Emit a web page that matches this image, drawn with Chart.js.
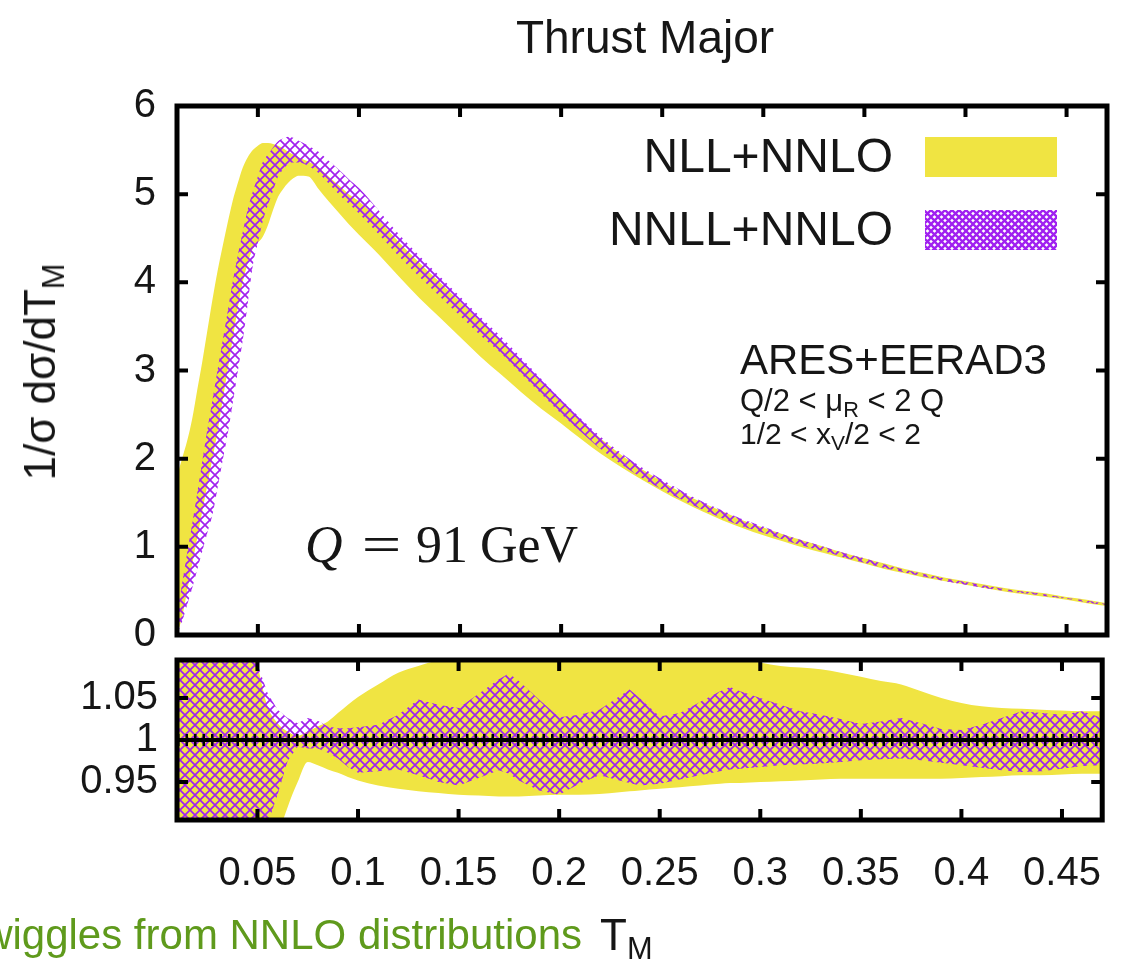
<!DOCTYPE html>
<html>
<head>
<meta charset="utf-8">
<script src="https://cdn.jsdelivr.net/npm/chart.js@4.4.1/dist/chart.umd.min.js"></script>
<style>
  html, body { margin: 0; padding: 0; background: #fff; }
  body { width: 1132px; height: 964px; position: relative; overflow: hidden;
         font-family: "Liberation Sans", Arial, sans-serif; color: #161616; }
  canvas { position: absolute; left: 0; }
  #main { top: 0; }
  #ratio { top: 600px; }
  .txt { position: absolute; white-space: nowrap; line-height: 1; }
  .txt sub { font-size: 70%; vertical-align: -0.3em; line-height: 0; }
  #title { left: 645px; top: 37px; font-size: 46px; transform: translate(-50%, -50%); }
  #ytitle { left: 40px; top: 372px; font-size: 44px; transform: translate(-50%, -50%) rotate(-90deg); }
  #qval { left: 305px; top: 545px; font-size: 52px; font-family: "Liberation Serif", serif; transform: translateY(-50%); }
  #qval .eq { display: inline-block; margin: 0 20px 0 24px; transform: scaleX(1.35); }
  #qval .gev { margin-left: 12px; }
  #ares { left: 740px; top: 360px; font-size: 42px; transform: translateY(-50%); }
  #mur { left: 740px; top: 400px; font-size: 31px; transform: translateY(-50%); }
  #xv { left: 740px; top: 434px; font-size: 30px; transform: translateY(-50%); }
  #note { right: 550px; top: 935px; font-size: 42px; color: #5f9a1c; transform: translateY(-50%); }
  #xtitle { left: 600px; top: 935px; font-size: 44px; transform: translateY(-50%); }
</style>
</head>
<body>
<canvas id="main" width="1132" height="680"></canvas>
<canvas id="ratio" width="1132" height="364"></canvas>

<div class="txt" id="title">Thrust Major</div>
<div class="txt" id="ytitle">1/σ dσ/dT<sub>M</sub></div>
<div class="txt" id="qval"><i>Q</i><span class="eq">=</span>91<span class="gev">GeV</span></div>
<div class="txt" id="ares">ARES+EERAD3</div>
<div class="txt" id="mur">Q/2 &lt; μ<sub>R</sub> &lt; 2 Q</div>
<div class="txt" id="xv">1/2 &lt; x<sub>V</sub>/2 &lt; 2</div>
<div class="txt" id="note">wiggles from NNLO distributions</div>
<div class="txt" id="xtitle">T<sub>M</sub></div>

<script>
// thrust major bins
const tGrid = [
  0.010, 0.0125, 0.015, 0.0175, 0.020, 0.0225, 0.025, 0.0275, 0.030, 0.0325,
  0.035, 0.0375, 0.040, 0.0425, 0.045, 0.0475, 0.050, 0.0525, 0.055, 0.0575,
  0.060, 0.0625, 0.065, 0.0675, 0.070, 0.075, 0.080, 0.085, 0.090, 0.095,
  0.10, 0.11, 0.12, 0.13, 0.14, 0.15, 0.16, 0.17, 0.18, 0.19,
  0.20, 0.21, 0.22, 0.23, 0.24, 0.25, 0.26, 0.27, 0.28, 0.29,
  0.30, 0.31, 0.32, 0.33, 0.34, 0.35, 0.36, 0.37, 0.38, 0.39,
  0.40, 0.41, 0.42, 0.43, 0.44, 0.45, 0.46, 0.47
];

// NLL+NNLO scale band (upper / lower edge)
const nllHi = [
  1.80, 2.00, 2.20, 2.45, 2.78, 3.10, 3.45, 3.80, 4.12, 4.40,
  4.67, 4.92, 5.12, 5.30, 5.42, 5.50, 5.55, 5.58, 5.58, 5.57,
  5.55, 5.52, 5.48, 5.45, 5.42, 5.37, 5.30, 5.20, 5.10, 5.00,
  4.92, 4.70, 4.45, 4.22, 4.00, 3.78, 3.56, 3.34, 3.10, 2.87,
  2.64, 2.42, 2.22, 2.04, 1.88, 1.74, 1.61, 1.50, 1.40, 1.30,
  1.22, 1.14, 1.07, 1.00, 0.93, 0.87, 0.81, 0.75, 0.70, 0.65,
  0.61, 0.57, 0.53, 0.50, 0.47, 0.43, 0.40, 0.36
];
const nllLo = [
  0.00, 0.20, 0.50, 0.80, 1.10, 1.40, 1.70, 2.00, 2.30, 2.65,
  3.00, 3.35, 3.70, 4.00, 4.22, 4.38, 4.45, 4.52, 4.65, 4.82,
  4.97, 5.06, 5.13, 5.18, 5.21, 5.20, 5.06, 4.92, 4.79, 4.66,
  4.54, 4.31, 4.06, 3.82, 3.60, 3.38, 3.16, 2.96, 2.76, 2.57,
  2.40, 2.22, 2.05, 1.90, 1.76, 1.63, 1.51, 1.40, 1.30, 1.21,
  1.13, 1.06, 0.99, 0.93, 0.87, 0.81, 0.75, 0.70, 0.65, 0.61,
  0.57, 0.53, 0.49, 0.46, 0.43, 0.40, 0.36, 0.33
];

// NNLL+NNLO scale band (upper / lower edge)
const nnllHi = [
  0.25, 0.58, 0.93, 1.26, 1.61, 1.97, 2.33, 2.66, 3.00, 3.33,
  3.66, 4.00, 4.30, 4.57, 4.83, 5.03, 5.20, 5.37, 5.45, 5.53,
  5.60, 5.63, 5.65, 5.64, 5.61, 5.55, 5.48, 5.38, 5.28, 5.17,
  5.07, 4.81, 4.54, 4.30, 4.07, 3.84, 3.61, 3.39, 3.15, 2.91,
  2.67, 2.45, 2.24, 2.06, 1.90, 1.76, 1.63, 1.51, 1.41, 1.31,
  1.23, 1.14, 1.07, 1.00, 0.93, 0.87, 0.80, 0.74, 0.69, 0.64,
  0.60, 0.56, 0.52, 0.49, 0.46, 0.42, 0.39, 0.35
];
const nnllLo = [
  0.00, 0.15, 0.34, 0.53, 0.74, 0.95, 1.16, 1.36, 1.66, 1.97,
  2.27, 2.62, 2.98, 3.34, 3.76, 4.19, 4.45, 4.70, 4.88, 5.04,
  5.20, 5.28, 5.34, 5.36, 5.36, 5.32, 5.24, 5.12, 5.00, 4.89,
  4.78, 4.54, 4.29, 4.06, 3.84, 3.62, 3.40, 3.20, 2.97, 2.74,
  2.51, 2.30, 2.10, 1.93, 1.78, 1.65, 1.53, 1.42, 1.32, 1.23,
  1.16, 1.08, 1.01, 0.95, 0.88, 0.82, 0.76, 0.71, 0.66, 0.61,
  0.57, 0.53, 0.50, 0.47, 0.44, 0.41, 0.37, 0.34
];

// bins of the ratio panel
const rT = [
  0.01, 0.02, 0.03, 0.04, 0.05, 0.055, 0.06, 0.065, 0.07, 0.075,
  0.08, 0.085, 0.09, 0.095, 0.10, 0.11, 0.12, 0.13, 0.14, 0.15,
  0.16, 0.17, 0.175, 0.18, 0.19, 0.20, 0.21, 0.22, 0.23, 0.235,
  0.24, 0.25, 0.26, 0.27, 0.28, 0.285, 0.29, 0.30, 0.31, 0.32,
  0.33, 0.34, 0.35, 0.36, 0.37, 0.38, 0.39, 0.40, 0.41, 0.42,
  0.43, 0.44, 0.45, 0.46, 0.47
];
const rNllHi = [
  1.20, 1.20, 1.20, 1.20, 1.09, 1.04, 1.02, 1.01, 1.005, 1.01,
  1.016, 1.022, 1.032, 1.042, 1.051, 1.066, 1.08, 1.088, 1.095, 1.10,
  1.10, 1.10, 1.10, 1.10, 1.10, 1.10, 1.10, 1.10, 1.10, 1.10,
  1.10, 1.10, 1.10, 1.10, 1.10, 1.10, 1.10, 1.092, 1.088, 1.086,
  1.084, 1.08, 1.075, 1.07, 1.066, 1.058, 1.05, 1.044, 1.04, 1.038,
  1.037, 1.036, 1.035, 1.034, 1.034
];
const rNllLo = [
  0.80, 0.80, 0.80, 0.80, 0.80, 0.80, 0.88, 0.92, 0.95, 0.974,
  0.97, 0.965, 0.961, 0.956, 0.952, 0.946, 0.942, 0.939, 0.937, 0.935,
  0.934, 0.933, 0.933, 0.933, 0.934, 0.935, 0.935, 0.936, 0.938, 0.939,
  0.94, 0.942, 0.944, 0.946, 0.948, 0.949, 0.949, 0.95, 0.951, 0.952,
  0.953, 0.954, 0.954, 0.954, 0.954, 0.954, 0.954, 0.955, 0.956, 0.957,
  0.958, 0.958, 0.959, 0.96, 0.96
];
const rNnllHi = [
  1.20, 1.20, 1.20, 1.20, 1.09, 1.056, 1.036, 1.026, 1.02, 1.026,
  1.023, 1.016, 1.014, 1.014, 1.015, 1.018, 1.03, 1.048, 1.042, 1.038,
  1.055, 1.072, 1.079, 1.07, 1.048, 1.027, 1.03, 1.036, 1.052, 1.06,
  1.05, 1.028, 1.032, 1.045, 1.058, 1.063, 1.058, 1.05, 1.042, 1.034,
  1.03, 1.025, 1.019, 1.022, 1.026, 1.02, 1.013, 1.012, 1.018, 1.026,
  1.034, 1.032, 1.03, 1.034, 1.026
];
const rNnllLo = [
  0.80, 0.80, 0.80, 0.80, 0.80, 0.90, 0.935, 0.975, 0.992, 0.99,
  0.99, 0.985, 0.978, 0.968, 0.961, 0.963, 0.965, 0.958, 0.95, 0.946,
  0.955, 0.964, 0.96, 0.952, 0.94, 0.935, 0.948, 0.958, 0.952, 0.949,
  0.946, 0.948, 0.953, 0.958, 0.963, 0.965, 0.966, 0.968, 0.97, 0.971,
  0.972, 0.974, 0.976, 0.977, 0.978, 0.976, 0.973, 0.97, 0.967, 0.964,
  0.962, 0.963, 0.966, 0.969, 0.97
];

// axis ticks
const xTicks = [0.05, 0.1, 0.15, 0.2, 0.25, 0.3, 0.35, 0.4, 0.45];
const yTicksMain = [0, 1, 2, 3, 4, 5, 6];
const yTicksRatio = [0.95, 1, 1.05];
const xRange = [0.01, 0.47];
const ratioRange = [0.905, 1.095];

const YELLOW = '#f0e442';
const PURPLE = '#a020f0';

// cross-hatch fill used for the NNLL band
function crossHatch(size, lw, bg) {
  const c = document.createElement('canvas');
  c.width = c.height = size;
  const g = c.getContext('2d');
  if (bg) { g.fillStyle = bg; g.fillRect(0, 0, size, size); }
  g.strokeStyle = PURPLE;
  g.lineWidth = lw;
  g.beginPath();
  g.moveTo(-1, -1); g.lineTo(size + 1, size + 1);
  g.moveTo(size + 1, -1); g.lineTo(-1, size + 1);
  g.stroke();
  return g.createPattern(c, 'repeat');
}
const hatch = crossHatch(10, 1.7);
const hatchKey = crossHatch(7, 2.3, '#fff');

const pts = (xs, ys) => xs.map((x, i) => ({ x: x, y: ys[i] }));

// frame with inward ticks on all four sides
const frame = {
  id: 'frame',
  afterDatasetsDraw(chart, args, opts) {
    const { ctx, chartArea: a, scales } = chart;
    ctx.save();
    ctx.strokeStyle = '#000';
    ctx.lineWidth = 4;
    ctx.beginPath();
    opts.xTicks.forEach(v => {
      const x = scales.x.getPixelForValue(v);
      ctx.moveTo(x, a.top); ctx.lineTo(x, a.top + 11);
      ctx.moveTo(x, a.bottom); ctx.lineTo(x, a.bottom - 11);
    });
    opts.yTicks.forEach(v => {
      const y = scales.y.getPixelForValue(v);
      ctx.moveTo(a.left, y); ctx.lineTo(a.left + 11, y);
      ctx.moveTo(a.right, y); ctx.lineTo(a.right - 11, y);
    });
    ctx.stroke();
    ctx.lineWidth = 5;
    ctx.strokeRect(a.left, a.top, a.right - a.left, a.bottom - a.top);
    ctx.restore();
  }
};

// key in the top-right corner: label on the left, swatch on the right
const keyBox = {
  id: 'keyBox',
  afterDraw(chart, args, opts) {
    const { ctx } = chart;
    const items = chart.data.datasets.filter(d => d.label);
    ctx.save();
    ctx.font = '48px "Liberation Sans", Arial, sans-serif';
    ctx.textAlign = 'right';
    ctx.textBaseline = 'middle';
    items.forEach((d, i) => {
      const y = opts.top + i * opts.gap;
      ctx.fillStyle = '#161616';
      ctx.fillText(d.label, opts.textRight, y + 2);
      ctx.fillStyle = d.keyFill || d.backgroundColor;
      ctx.fillRect(opts.boxLeft, y - 20, opts.boxWidth, 40);
    });
    ctx.restore();
  }
};

const tickFont = { family: '"Liberation Sans", Arial, sans-serif', size: 40 };

new Chart(document.getElementById('main'), {
  type: 'line',
  data: {
    datasets: [
      { data: pts(tGrid, nllLo), fill: false, order: 2 },
      { label: 'NLL+NNLO', data: pts(tGrid, nllHi), fill: '-1', backgroundColor: YELLOW, order: 2 },
      { data: pts(tGrid, nnllLo), fill: false, order: 1 },
      { label: 'NNLL+NNLO', data: pts(tGrid, nnllHi), fill: '-1', backgroundColor: hatch, keyFill: hatchKey, order: 1 }
    ]
  },
  options: {
    responsive: false,
    animation: false,
    layout: { padding: { top: 106, right: 25, bottom: 40, left: 0 } },
    elements: {
      point: { radius: 0 },
      line: { borderWidth: 0, borderColor: 'rgba(0,0,0,0)', cubicInterpolationMode: 'monotone' }
    },
    plugins: {
      legend: { display: false },
      tooltip: { enabled: false },
      frame: { xTicks: xTicks, yTicks: yTicksMain },
      keyBox: { top: 157, gap: 73, textRight: 893, boxLeft: 925, boxWidth: 132 }
    },
    scales: {
      x: { type: 'linear', min: xRange[0], max: xRange[1], display: false },
      y: {
        min: 0, max: 6,
        afterFit: s => { s.width = 177; },
        afterBuildTicks: s => { s.ticks = yTicksMain.map(v => ({ value: v })); },
        grid: { display: false, drawTicks: false },
        border: { display: false },
        ticks: { padding: 21, font: tickFont, color: '#161616' }
      }
    }
  },
  plugins: [frame, keyBox]
});

new Chart(document.getElementById('ratio'), {
  type: 'line',
  data: {
    datasets: [
      { data: pts(rT, rNllLo), fill: false, order: 3, cubicInterpolationMode: 'monotone' },
      { data: pts(rT, rNllHi), fill: '-1', backgroundColor: YELLOW, order: 3, cubicInterpolationMode: 'monotone' },
      { data: pts(rT, rNnllLo), fill: false, order: 2 },
      { data: pts(rT, rNnllHi), fill: '-1', backgroundColor: hatch, order: 2 },
      // unit line with short vertical marks along it
      { data: pts(xRange, [1, 1]), borderColor: '#000', borderWidth: 4, order: 1 },
      { data: pts(xRange, [1, 1]), borderColor: '#000', borderWidth: 12, borderDash: [2.5, 6], order: 0 }
    ]
  },
  options: {
    responsive: false,
    animation: false,
    layout: { padding: { top: 60, right: 25, bottom: 0, left: 0 } },
    elements: {
      point: { radius: 0 },
      line: { borderWidth: 0, borderColor: 'rgba(0,0,0,0)', tension: 0 }
    },
    plugins: {
      legend: { display: false },
      tooltip: { enabled: false },
      frame: { xTicks: xTicks, yTicks: [0.95, 1.05] }
    },
    scales: {
      x: {
        type: 'linear', min: xRange[0], max: xRange[1],
        afterFit: s => { s.height = 144; },
        afterBuildTicks: s => { s.ticks = xTicks.map(v => ({ value: v })); },
        grid: { display: false, drawTicks: false },
        border: { display: false },
        ticks: { padding: 30, maxRotation: 0, font: tickFont, color: '#161616', callback: v => String(v) }
      },
      y: {
        min: ratioRange[0], max: ratioRange[1],
        afterFit: s => { s.width = 177; },
        afterBuildTicks: s => { s.ticks = yTicksRatio.map(v => ({ value: v })); },
        grid: { display: false, drawTicks: false },
        border: { display: false },
        ticks: { padding: 19, font: tickFont, color: '#161616', callback: v => String(v) }
      }
    }
  },
  plugins: [frame]
});
</script>
</body>
</html>
